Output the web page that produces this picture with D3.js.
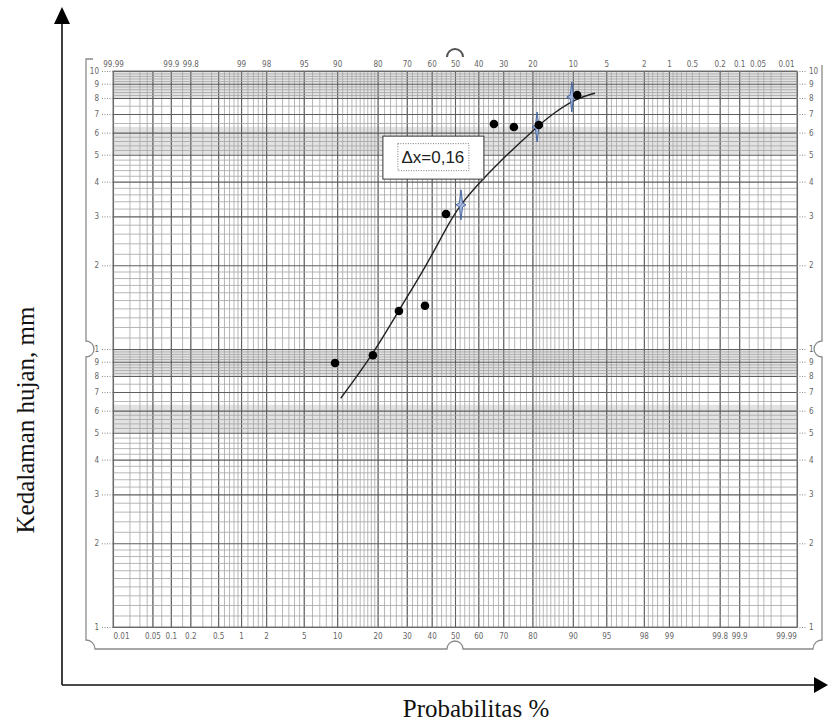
<!DOCTYPE html>
<html>
<head>
<meta charset="utf-8">
<script src="https://cdn.jsdelivr.net/npm/d3@7"></script>
<style>
  html, body { margin: 0; padding: 0; background: #fff; }
  svg { display: block; }
  .paper text { font-family: "Liberation Sans Narrow", "DejaVu Sans Condensed", sans-serif; font-size: 8px; fill: #666; }
  .paper .domain { display: none; }
</style>
</head>
<body>
<div id="chart"></div>
<script>
// titik pengamatan (probabilitas %, kedalaman hujan mm)
const obsProb  = [9.6, 18.6, 27.1, 37.2, 46.1, 66.4, 73.9, 81.9, 90.8];
const obsDepth = [8.9, 9.5, 13.7, 14.3, 30.6, 64.5, 62.9, 63.9, 82];

// garis distribusi hasil plot
const fitProb  = [10.7, 18.7, 27.1, 37.9, 46.4, 52.2, 61.4, 71.3, 80.3, 85.7, 90.7, 93.6];
const fitDepth = [6.65, 9.6, 13.8, 20.0, 27.5, 33.0, 40.5, 49.9, 61.3, 70.5, 79.8, 83.2];

// tanda bintang (titik uji)
const starProb  = [52.6, 81.4, 89.8];
const starDepth = [33, 62.9, 80.6];

// label kertas probabilitas
const bottomLabels = [0.01, 0.05, 0.1, 0.2, 0.5, 1, 2, 5, 10, 20, 30, 40, 50, 60, 70, 80, 90, 95, 98, 99, 99.8, 99.9, 99.99];
const topLabels = [99.99, 99.9, 99.8, 99, 98, 95, 90, 80, 70, 60, 50, 40, 30, 20, 10, 5, 2, 1, 0.5, 0.2, 0.1, 0.05, 0.01];
const probGridHalf = [0.01, 0.02, 0.03, 0.04, 0.05, 0.07, 0.1, 0.15, 0.2, 0.3, 0.4, 0.5, 0.6, 0.7, 0.8, 0.9,
  1, 1.2, 1.4, 1.6, 1.8, 2, 2.5, 3, 3.5, 4, 4.5, 5, 6, 7, 8, 9, 10, 11, 12, 13, 14, 15, 16, 17, 18, 19,
  20, 22, 24, 26, 28, 30, 32, 34, 36, 38, 40, 42, 44, 46, 48, 50];
const depthMajor = [1, 2, 3, 4, 5, 6, 7, 8, 9, 10, 20, 30, 40, 50, 60, 70, 80, 90, 100];
const depthLabels = ['1', '2', '3', '4', '5', '6', '7', '8', '9', '1', '2', '3', '4', '5', '6', '7', '8', '9', '10'];
const depthMinorBase = [1.1, 1.2, 1.3, 1.4, 1.5, 1.6, 1.7, 1.8, 1.9, 2.2, 2.4, 2.6, 2.8, 3.2, 3.4, 3.6, 3.8,
  4.2, 4.4, 4.6, 4.8, 5.2, 5.4, 5.6, 5.8, 6.5, 7.5, 8.2, 8.4, 8.6, 8.8, 9.2, 9.4, 9.6, 9.8];
const shadeBands = [[5, 6.3], [8, 10], [50, 63], [80, 100]];

const annot = { p: 40.5, v: 49, text: 'Δx=0,16' };

const W = 828, H = 724;
const plot = { left: 113, right: 797, top: 71, bottom: 627 };

// invers distribusi normal (Acklam)
function qnorm(p) {
  const a = [-3.969683028665376e+01, 2.209460984245205e+02, -2.759285104469687e+02, 1.383577518672690e+02, -3.066479806614716e+01, 2.506628277459239e+00];
  const b = [-5.447609879822406e+01, 1.615858368580409e+02, -1.556989798598866e+02, 6.680131188771972e+01, -1.328068155288572e+01];
  const c = [-7.784894002430293e-03, -3.223964580411365e-01, -2.400758277161838e+00, -2.549671010347086e+00, 4.374664141464968e+00, 2.938163982698783e+00];
  const d = [7.784695709041462e-03, 3.224671290700398e-01, 2.445134137142996e+00, 3.754408661907416e+00];
  const pl = 0.02425;
  let q, r;
  if (p < pl) {
    q = Math.sqrt(-2 * Math.log(p));
    return (((((c[0]*q+c[1])*q+c[2])*q+c[3])*q+c[4])*q+c[5]) / ((((d[0]*q+d[1])*q+d[2])*q+d[3])*q+1);
  }
  if (p <= 1 - pl) {
    q = p - 0.5; r = q * q;
    return (((((a[0]*r+a[1])*r+a[2])*r+a[3])*r+a[4])*r+a[5])*q / (((((b[0]*r+b[1])*r+b[2])*r+b[3])*r+b[4])*r+1);
  }
  q = Math.sqrt(-2 * Math.log(1 - p));
  return -(((((c[0]*q+c[1])*q+c[2])*q+c[3])*q+c[4])*q+c[5]) / ((((d[0]*q+d[1])*q+d[2])*q+d[3])*q+1);
}
const zOf = p => qnorm(p / 100);
const zMax = zOf(99.99);

const x = d3.scaleLinear().domain([-zMax, zMax]).range([plot.left, plot.right]);
const y = d3.scaleLog().domain([1, 100]).range([plot.bottom, plot.top]);
const px = p => x(zOf(p));

const svg = d3.select('#chart').append('svg').attr('width', W).attr('height', H);
const paper = svg.append('g').attr('class', 'paper');

/* bidang abu-abu */
paper.selectAll('rect.band').data(shadeBands).join('rect')
  .attr('class', 'band')
  .attr('x', plot.left).attr('width', plot.right - plot.left)
  .attr('y', d => y(d[1])).attr('height', d => y(d[0]) - y(d[1]))
  .attr('fill', '#e2e2e2');

/* garis grid vertikal */
const probGrid = Array.from(new Set(probGridHalf.concat(probGridHalf.map(p => +(100 - p).toFixed(2))))).sort((a, b) => a - b);
const h = plot.bottom - plot.top, w = plot.right - plot.left;

paper.append('g')
  .attr('transform', 'translate(0,' + plot.bottom + ')')
  .call(d3.axisBottom(x).tickValues(probGrid.map(zOf)).tickSize(-h).tickFormat(''))
  .call(g => g.selectAll('.tick line').attr('stroke', '#a4a4a4').attr('stroke-width', 0.8));

paper.append('g')
  .attr('transform', 'translate(0,' + plot.bottom + ')')
  .call(d3.axisBottom(x).tickValues(bottomLabels.map(zOf)).tickSize(-h).tickFormat(''))
  .call(g => g.selectAll('.tick line').attr('stroke', '#5e5e5e').attr('stroke-width', 1.1));

/* garis grid horizontal */
const depthMinor = depthMinorBase.concat(depthMinorBase.map(v => v * 10));
paper.append('g')
  .attr('transform', 'translate(' + plot.left + ',0)')
  .call(d3.axisLeft(y).tickValues(depthMinor).tickSize(-w).tickFormat(''))
  .call(g => g.selectAll('.tick line').attr('stroke', '#a4a4a4').attr('stroke-width', 0.8));

paper.append('g')
  .attr('transform', 'translate(' + plot.left + ',0)')
  .call(d3.axisLeft(y).tickValues(depthMajor).tickSize(-w).tickFormat(''))
  .call(g => g.selectAll('.tick line').attr('stroke', '#5e5e5e').attr('stroke-width', 1.1));

paper.append('rect')
  .attr('x', plot.left).attr('y', plot.top).attr('width', w).attr('height', h)
  .attr('fill', 'none').attr('stroke', '#777').attr('stroke-width', 1);

/* label probabilitas bawah & atas */
const fmtP = p => String(+p.toFixed(2));
const endShift = p => (p === 0.01 ? 8 : p === 99.99 ? -11 : 0);

const bottomAx = paper.append('g')
  .attr('transform', 'translate(0,' + plot.bottom + ')')
  .call(d3.axisBottom(x).tickValues(bottomLabels.map(zOf)).tickSize(0).tickPadding(6)
    .tickFormat((d, i) => fmtP(bottomLabels[i])));
bottomAx.selectAll('.tick text').attr('dx', (d, i) => endShift(bottomLabels[i]));

const topAx = paper.append('g')
  .attr('transform', 'translate(0,' + plot.top + ')')
  .call(d3.axisTop(x).tickValues(topLabels.map(t => zOf(100 - t))).tickSize(0).tickPadding(4)
    .tickFormat((d, i) => fmtP(topLabels[i])));
topAx.selectAll('.tick text').attr('dx', (d, i) => endShift(100 - topLabels[i]));

/* label kedalaman kiri & kanan */
const leftAx = paper.append('g')
  .attr('transform', 'translate(' + plot.left + ',0)')
  .call(d3.axisLeft(y).tickValues(depthMajor).tickSize(12).tickPadding(2)
    .tickFormat((d, i) => depthLabels[i]));
leftAx.selectAll('.tick line').attr('stroke', '#888').attr('stroke-dasharray', '1,1.5');

const rightAx = paper.append('g')
  .attr('transform', 'translate(' + plot.right + ',0)')
  .call(d3.axisRight(y).tickValues(depthMajor).tickSize(10).tickPadding(2)
    .tickFormat((d, i) => depthLabels[i]));
rightAx.selectAll('.tick line').attr('stroke', '#888').attr('stroke-dasharray', '1,1.5');

/* bingkai kertas */
const fx0 = 86, fx1 = 822, fy0 = 59, fy1 = 649, ym = y(10), xm = x(0), r = 8;
const frame = d3.path();
frame.moveTo(fx0 + 7, fy0);
frame.lineTo(fx0, fy0);
frame.lineTo(fx0, ym - r);
frame.arc(fx0, ym, r, -Math.PI / 2, Math.PI / 2, false);
frame.lineTo(fx0, fy1 - 9);
frame.arc(fx0, fy1, 9, -Math.PI / 2, 0, false);
frame.lineTo(xm - r, fy1);
frame.arc(xm, fy1, r, Math.PI, 0, false);
frame.lineTo(fx1 - 9, fy1);
frame.arc(fx1, fy1, 9, Math.PI, -Math.PI / 2, false);
frame.lineTo(fx1, ym + r);
frame.arc(fx1, ym, r, Math.PI / 2, -Math.PI / 2, false);
frame.lineTo(fx1, fy0 + 6);
paper.append('path').attr('d', frame.toString())
  .attr('fill', 'none').attr('stroke', '#8a8a8a').attr('stroke-width', 1.3);

const notchTop = d3.path();
notchTop.arc(xm, fy0 - 2, r, Math.PI, 0, false);
paper.append('path').attr('d', notchTop.toString())
  .attr('fill', 'none').attr('stroke', '#555').attr('stroke-width', 2);

/* kurva distribusi */
const fitData = fitProb.map((p, i) => ({ p, v: fitDepth[i] }));
const line = d3.line().x(d => px(d.p)).y(d => y(d.v)).curve(d3.curveBasis);
svg.append('path').datum(fitData).attr('d', line)
  .attr('fill', 'none').attr('stroke', '#222').attr('stroke-width', 1.4);

/* bintang biru */
const starShape = 'M0,-15 L1.6,-2 L5,0 L1.6,2 L0,15 L-1.6,2 L-5,0 L-1.6,-2 Z';
svg.selectAll('path.star').data(starProb.map((p, i) => ({ p, v: starDepth[i] }))).join('path')
  .attr('class', 'star')
  .attr('d', starShape)
  .attr('transform', d => 'translate(' + px(d.p) + ',' + y(d.v) + ')')
  .attr('fill', '#9db3dc').attr('fill-opacity', 0.85)
  .attr('stroke', '#3d5f9e').attr('stroke-width', 0.9);

/* titik pengamatan */
svg.selectAll('circle.obs').data(obsProb.map((p, i) => ({ p, v: obsDepth[i] }))).join('circle')
  .attr('class', 'obs')
  .attr('cx', d => px(d.p)).attr('cy', d => y(d.v)).attr('r', 4.3)
  .attr('fill', '#000');

/* kotak keterangan */
const ax = px(annot.p), ay = y(annot.v);
svg.append('rect').attr('x', ax - 50).attr('y', ay - 21).attr('width', 101).attr('height', 43)
  .attr('fill', '#fff').attr('stroke', '#333').attr('stroke-width', 1);
svg.append('rect').attr('x', ax - 35).attr('y', ay - 13.5).attr('width', 71).attr('height', 27)
  .attr('fill', 'none').attr('stroke', '#555').attr('stroke-width', 0.8).attr('stroke-dasharray', '1,1.5');
svg.append('text').attr('x', ax).attr('y', ay + 6).attr('text-anchor', 'middle')
  .style('font-family', '"Liberation Sans", "Open Sans", sans-serif').style('font-size', '17px').style('fill', '#222')
  .text(annot.text);

/* sumbu luar dengan panah */
const ox = 62, oy = 685;
svg.append('line').attr('x1', ox).attr('y1', oy).attr('x2', ox).attr('y2', 20)
  .attr('stroke', '#111').attr('stroke-width', 1.6);
svg.append('path').attr('d', 'M' + ox + ',7 L' + (ox - 8) + ',24 L' + (ox + 8) + ',24 Z').attr('fill', '#000');
svg.append('line').attr('x1', ox).attr('y1', oy).attr('x2', 818).attr('y2', oy)
  .attr('stroke', '#111').attr('stroke-width', 1.6);
svg.append('path').attr('d', 'M828,' + oy + ' L814,' + (oy - 8) + ' L814,' + (oy + 8) + ' Z').attr('fill', '#000');

svg.append('text')
  .attr('transform', 'translate(34,420) rotate(-90)')
  .attr('text-anchor', 'middle')
  .style('font-family', '"Liberation Serif", "Times New Roman", serif').style('font-size', '25px').style('fill', '#111')
  .text('Kedalaman hujan, mm');

svg.append('text')
  .attr('x', 476).attr('y', 717).attr('text-anchor', 'middle')
  .style('font-family', '"Liberation Serif", "Times New Roman", serif').style('font-size', '25px').style('fill', '#111')
  .text('Probabilitas %');
</script>
</body>
</html>
